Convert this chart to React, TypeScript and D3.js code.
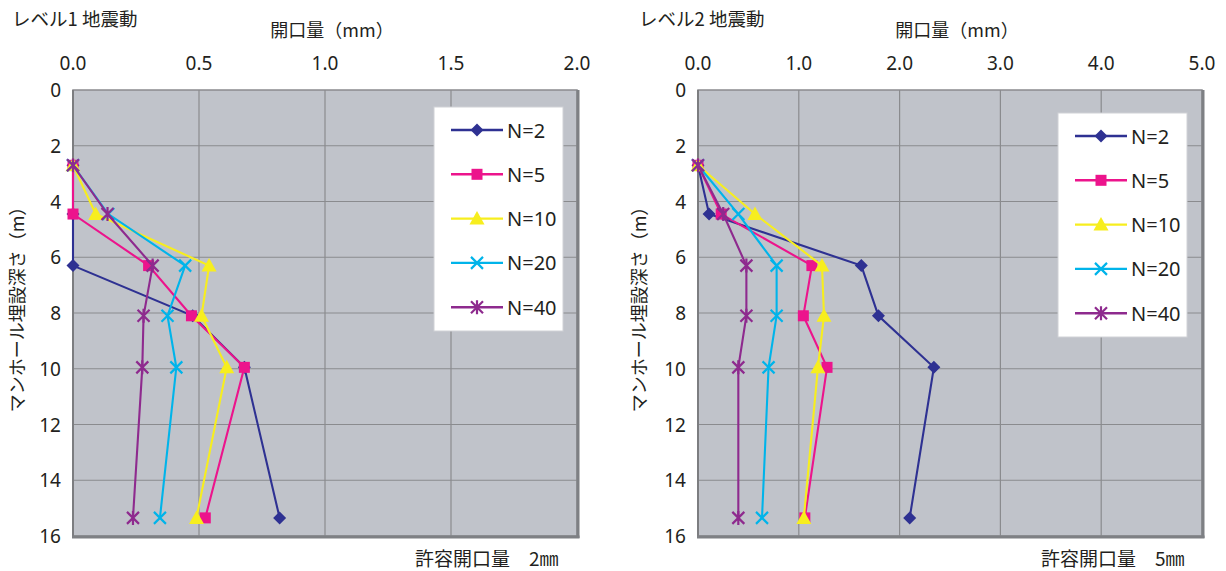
import React from "react";
import * as d3 from "d3";

const depths = [2.7, 4.45, 6.3, 8.1, 9.95, 15.35];
const seriesNames = ["N=2", "N=5", "N=10", "N=20", "N=40"];
const seriesColors = ["#2E3192", "#EC148C", "#F7EE1E", "#00B4EA", "#8E2A8E"];
const seriesMarkers = ["diamond", "square", "triangle", "x", "asterisk"];

const level1N2 = [0, 0, 0, 0.475, 0.68, 0.82];
const level1N5 = [0, 0, 0.3, 0.47, 0.68, 0.525];
const level1N10 = [0, 0.09, 0.54, 0.51, 0.61, 0.49];
const level1N20 = [0, 0.14, 0.445, 0.375, 0.41, 0.345];
const level1N40 = [0, 0.137, 0.316, 0.28, 0.275, 0.238];

const level2N2 = [0, 0.11, 1.62, 1.79, 2.34, 2.1];
const level2N5 = [0, 0.23, 1.13, 1.045, 1.28, 1.06];
const level2N10 = [0, 0.565, 1.23, 1.25, 1.19, 1.05];
const level2N20 = [0, 0.4, 0.78, 0.78, 0.7, 0.635];
const level2N40 = [0, 0.25, 0.48, 0.48, 0.4, 0.4];

const level1XTicks = [0, 0.5, 1.0, 1.5, 2.0];
const level2XTicks = [0, 1, 2, 3, 4, 5];
const yTicks = [0, 2, 4, 6, 8, 10, 12, 14, 16];

const FONT = "'Noto Sans CJK JP', 'Noto Sans', sans-serif";
const NUMFONT = "'Noto Sans', 'Noto Sans CJK JP', sans-serif";

function Marker({ type, x, y, color }: { type: string; x: number; y: number; color: string }) {
  if (type === "diamond") {
    const r = 6.5;
    return <path d={`M${x},${y - r}L${x + r},${y}L${x},${y + r}L${x - r},${y}Z`} fill={color} />;
  }
  if (type === "square") {
    const r = 5.5;
    return <rect x={x - r} y={y - r} width={2 * r} height={2 * r} fill={color} />;
  }
  if (type === "triangle") {
    const r = 7.5;
    return <path d={`M${x},${y - r}L${x + r},${y + r * 0.8}L${x - r},${y + r * 0.8}Z`} fill={color} />;
  }
  if (type === "x") {
    const r = 6;
    return (
      <path d={`M${x - r},${y - r}L${x + r},${y + r}M${x + r},${y - r}L${x - r},${y + r}`} stroke={color} strokeWidth={2.2} />
    );
  }
  const r = 6;
  return (
    <path
      d={`M${x - r},${y - r}L${x + r},${y + r}M${x + r},${y - r}L${x - r},${y + r}M${x},${y - r - 1}L${x},${y + r + 1}`}
      stroke={color}
      strokeWidth={2.2}
    />
  );
}

type PanelProps = {
  title: string;
  note: string;
  left: number;
  right: number;
  xMax: number;
  xTicks: number[];
  series: number[][];
  legendX: number;
  legendY: number;
  titleX: number;
  yLabelX: number;
  noteX: number;
};

function Panel(p: PanelProps) {
  const top = 90;
  const bottom = 536;
  const x = d3.scaleLinear().domain([0, p.xMax]).range([p.left, p.right]);
  const y = d3.scaleLinear().domain([0, 16]).range([top, bottom]);
  const line = d3
    .line<number>()
    .x((v) => x(v))
    .y((_, i) => y(depths[i]));
  const legendW = 129;
  const legendH = 224;
  const legendStep = 44.3;
  return (
    <g fontFamily={FONT}>
      <text x={p.titleX} y={26} fontSize={18.5} fill="#231F20">{p.title}</text>
      <text x={(p.left + p.right) / 2 + 7} y={37} fontSize={18} fill="#231F20" textAnchor="middle">開口量（mm）</text>
      {p.xTicks.map((t) => (
        <text key={t} x={x(t)} y={70} fontSize={19} fontFamily={NUMFONT} fill="#231F20" textAnchor="middle">
          {t.toFixed(1)}
        </text>
      ))}
      {yTicks.map((t) => (
        <text key={t} x={p.left - 12} y={y(t) + 7} fontSize={19} fontFamily={NUMFONT} fill="#231F20" textAnchor="end">
          {t}
        </text>
      ))}
      <text
        transform={`translate(${p.yLabelX},${305}) rotate(-90)`}
        fontSize={18}
        fill="#231F20"
        textAnchor="middle"
      >
        マンホール埋設深さ（m）
      </text>
      <rect x={p.left} y={top} width={p.right - p.left} height={bottom - top} fill="#C0C3CA" />
      {p.xTicks.slice(1, -1).map((t) => (
        <line key={t} x1={x(t)} x2={x(t)} y1={top} y2={bottom} stroke="#8A8B8E" strokeWidth={1.2} />
      ))}
      {yTicks.slice(1, -1).map((t) => (
        <line key={t} x1={p.left} x2={p.right} y1={y(t)} y2={y(t)} stroke="#8A8B8E" strokeWidth={1.2} />
      ))}
      <rect x={p.left} y={top} width={p.right - p.left} height={bottom - top} fill="none" stroke="#8A8B8E" strokeWidth={1.5} />
      <line x1={p.left} x2={p.left} y1={top} y2={bottom} stroke="#7C7D80" strokeWidth={2} />
      <line x1={p.right + 1} x2={p.right + 1} y1={top} y2={bottom + 2} stroke="#7E8084" strokeWidth={3} />
      <line x1={p.left - 1} x2={p.right + 2.5} y1={bottom + 1} y2={bottom + 1} stroke="#7E8084" strokeWidth={3} />
      {p.series.map((s, i) => (
        <g key={i}>
          <path d={line(s) || ""} fill="none" stroke={seriesColors[i]} strokeWidth={2.1} />
          {s.map((v, j) => (
            <Marker key={j} type={seriesMarkers[i]} x={x(v)} y={y(depths[j])} color={seriesColors[i]} />
          ))}
        </g>
      ))}
      <rect x={p.legendX} y={p.legendY} width={legendW} height={legendH} fill="#FFFFFF" stroke="#D0D2D6" strokeWidth={1} />
      {seriesNames.map((n, i) => {
        const ly = p.legendY + 23 + i * legendStep;
        return (
          <g key={n}>
            <line x1={p.legendX + 17} x2={p.legendX + 69} y1={ly} y2={ly} stroke={seriesColors[i]} strokeWidth={2.4} />
            <Marker type={seriesMarkers[i]} x={p.legendX + 43} y={ly} color={seriesColors[i]} />
            <text x={p.legendX + 73} y={ly + 7.5} fontSize={20} fontFamily={NUMFONT} fill="#231F20">{n}</text>
          </g>
        );
      })}
      <text x={p.noteX} y={566} fontSize={19} fill="#231F20">{p.note}</text>
    </g>
  );
}

export default function App() {
  return (
    <svg width={1226} height={571} style={{ position: "absolute", left: 0, top: 0, background: "#fff" }}>
      <Panel
        title="レベル1 地震動"
        note="許容開口量　2㎜"
        left={73}
        right={577}
        xMax={2}
        xTicks={level1XTicks}
        series={[level1N2, level1N5, level1N10, level1N20, level1N40]}
        legendX={434}
        legendY={107}
        titleX={12}
        yLabelX={24}
        noteX={415}
      />
      <Panel
        title="レベル2 地震動"
        note="許容開口量　5㎜"
        left={698}
        right={1202}
        xMax={5}
        xTicks={level2XTicks}
        series={[level2N2, level2N5, level2N10, level2N20, level2N40]}
        legendX={1058}
        legendY={113}
        titleX={639}
        yLabelX={646}
        noteX={1041}
      />
    </svg>
  );
}
